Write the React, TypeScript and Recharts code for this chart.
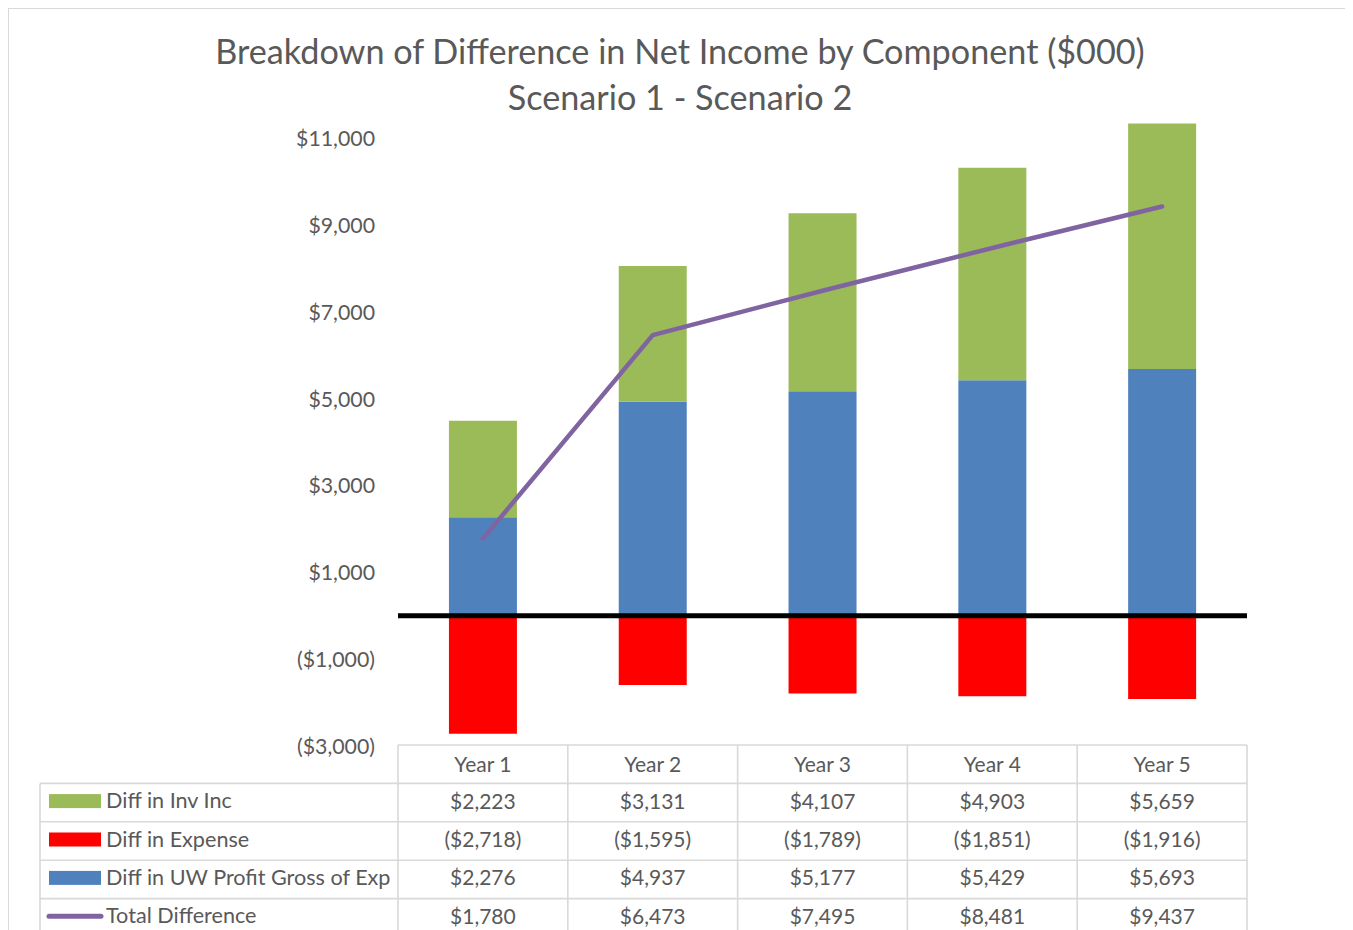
import React from 'react';
import { ComposedChart, Bar, Line, XAxis, YAxis, ReferenceLine } from 'recharts';

const years = ['Year 1', 'Year 2', 'Year 3', 'Year 4', 'Year 5'];
const invInc = [2223, 3131, 4107, 4903, 5659];
const expense = [-2718, -1595, -1789, -1851, -1916];
const uwProfit = [2276, 4937, 5177, 5429, 5693];
const totalDiff = [1780, 6473, 7495, 8481, 9437];
const yTicks = [-3000, -1000, 1000, 3000, 5000, 7000, 9000, 11000];

const seriesInfo = [
  { name: 'Diff in Inv Inc', color: '#9BBB59', values: invInc, kind: 'bar' },
  { name: 'Diff in Expense', color: '#FF0000', values: expense, kind: 'bar' },
  { name: 'Diff in UW Profit Gross of Exp', color: '#4F81BD', values: uwProfit, kind: 'bar' },
  { name: 'Total Difference', color: '#8064A2', values: totalDiff, kind: 'line' },
];

const data = years.map((y, i) => ({
  year: y,
  inv: invInc[i],
  exp: expense[i],
  uw: uwProfit[i],
  total: totalDiff[i],
}));

const fmt = (v: number) => {
  const s = '$' + Math.abs(v).toLocaleString('en-US');
  return v < 0 ? '(' + s + ')' : s;
};

const FONT = 'Lato, "Open Sans", sans-serif';
const TXT = '#595959';

// layout (container coords, container at page 8,8)
const W = 1345;
const H = 922;
const PLOT_L = 390;
const PLOT_R = 1239;
const PLOT_T = 109;
const PLOT_B = 738;
const TABLE_T = 737;
const COL_W = (PLOT_R - PLOT_L) / years.length;
const ROW_H = 38.4;
const LEG_L = 32;

export default function App() {
  const tableRows = seriesInfo.length;
  const lineColor = '#d9d9d9';
  const lines: React.ReactNode[] = [];
  const tableTop = TABLE_T;
  const tableBottom = tableTop + ROW_H * (tableRows + 1);
  for (let r = 0; r <= tableRows + 1; r++) {
    const y = tableTop + r * ROW_H;
    const x1 = r <= 0 ? PLOT_L : LEG_L;
    lines.push(<line key={'h' + r} x1={x1} x2={PLOT_R} y1={y} y2={y} stroke={lineColor} strokeWidth={1.6} />);
  }
  for (let c = 0; c <= years.length; c++) {
    const x = PLOT_L + c * COL_W;
    lines.push(<line key={'v' + c} x1={x} x2={x} y1={tableTop} y2={tableBottom} stroke={lineColor} strokeWidth={1.6} />);
  }
  lines.push(<line key="vl" x1={LEG_L} x2={LEG_L} y1={tableTop + ROW_H} y2={tableBottom} stroke={lineColor} strokeWidth={1.6} />);

  return (
    <div style={{ position: 'relative', width: W, height: H, fontFamily: FONT }}>
      <div style={{ position: 'absolute', left: 0, top: 0, width: 1344, height: 940, border: '1px solid #d9d9d9', boxSizing: 'border-box' }} />
      <div style={{ position: 'absolute', left: 0, top: 0 }}>
        <ComposedChart
          width={W}
          height={H}
          data={data}
          stackOffset="sign"
          barCategoryGap="30%"
          margin={{ top: PLOT_T, right: W - PLOT_R, bottom: H - PLOT_B, left: PLOT_L - 100 }}
        >
          <XAxis dataKey="year" hide />
          <YAxis
            width={100}
            domain={[-3000, 11500]}
            ticks={yTicks}
            allowDataOverflow
            axisLine={false}
            tickLine={false}
            tickSize={0}
            tickMargin={23}
            tickFormatter={fmt}
            tick={{ fill: TXT, fontSize: 21.3, fontFamily: FONT }}
            interval={0}
          />
          <Bar dataKey="uw" stackId="a" fill="#4F81BD" isAnimationActive={false} />
          <Bar dataKey="inv" stackId="a" fill="#9BBB59" isAnimationActive={false} />
          <Bar dataKey="exp" stackId="a" fill="#FF0000" isAnimationActive={false} />
          <ReferenceLine y={0} stroke="#000" strokeWidth={5} />
          <Line
            dataKey="total"
            type="linear"
            stroke="#8064A2"
            strokeWidth={4.5}
            strokeLinecap="round"
            strokeLinejoin="round"
            dot={false}
            activeDot={false}
            isAnimationActive={false}
          />
        </ComposedChart>
      </div>
      <svg style={{ position: 'absolute', left: 0, top: 0, pointerEvents: 'none' }} width={W} height={H + 10}>
        <text x={672} y={42} textAnchor="middle" dominantBaseline="central" fill={TXT} fontSize={34.2} fontFamily={FONT}>
          Breakdown of Difference in Net Income by Component ($000)
        </text>
        <text x={672} y={88} textAnchor="middle" dominantBaseline="central" fill={TXT} fontSize={34.2} fontFamily={FONT}>
          Scenario 1 - Scenario 2
        </text>
        {lines}
        {years.map((y, c) => (
          <text key={'hdr' + c} x={PLOT_L + (c + 0.5) * COL_W} y={tableTop + ROW_H / 2 - 1} textAnchor="middle" dominantBaseline="central" fill={TXT} fontSize={21} fontFamily={FONT}>
            {y}
          </text>
        ))}
        {seriesInfo.map((s, r) => {
          const cy = tableTop + (r + 1.5) * ROW_H;
          return (
            <g key={'row' + r}>
              {s.kind === 'bar' ? (
                <rect x={41} y={cy - 7 - 1.5} width={52} height={14} fill={s.color} />
              ) : (
                <line x1={41} x2={93} y1={cy - 1.5} y2={cy - 1.5} stroke={s.color} strokeWidth={5} strokeLinecap="round" />
              )}
              <text x={98} y={cy - 2.5} dominantBaseline="central" fill={TXT} fontSize={21.6} fontFamily={FONT}>
                {s.name}
              </text>
              {s.values.map((v, c) => (
                <text key={c} x={PLOT_L + (c + 0.5) * COL_W} y={cy - 2.5} textAnchor="middle" dominantBaseline="central" fill={TXT} fontSize={21} fontFamily={FONT}>
                  {fmt(v)}
                </text>
              ))}
            </g>
          );
        })}
      </svg>
    </div>
  );
}
